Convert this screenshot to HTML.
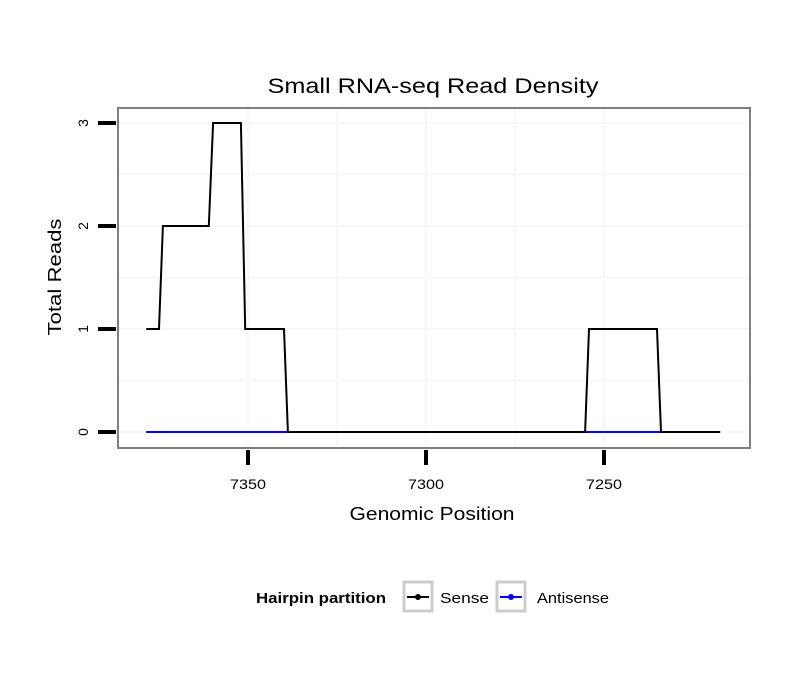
<!DOCTYPE html>
<html><head><meta charset="utf-8"><style>
body{margin:0;background:#fff;}
svg text{font-family:"Liberation Sans",sans-serif;}
</style></head><body>
<svg id="chart" width="810" height="690" xmlns="http://www.w3.org/2000/svg">
<rect width="810" height="690" fill="#fff"/>
<text x="433" y="93" font-size="21" text-anchor="middle" textLength="331" lengthAdjust="spacingAndGlyphs">Small RNA-seq Read Density</text>
<g id="grid"></g>
<g id="series"></g>
<rect x="118" y="108" width="632" height="340" fill="none" stroke="#7f7f7f" stroke-width="2"/>
<g id="axes"></g>
<text x="432" y="520" font-size="18" text-anchor="middle" textLength="165" lengthAdjust="spacingAndGlyphs">Genomic Position</text>
<text transform="translate(61,277) rotate(-90)" font-size="18" text-anchor="middle" textLength="117" lengthAdjust="spacingAndGlyphs">Total Reads</text>
<g>
<text x="256" y="603" font-size="15" font-weight="bold" textLength="130" lengthAdjust="spacingAndGlyphs">Hairpin partition</text>
<g>
<rect x="404" y="582" width="28" height="29" fill="#fff" stroke="#cccccc" stroke-width="3"/>
<line x1="407" y1="597" x2="429" y2="597" stroke="#000" stroke-width="2"/>
<circle cx="418" cy="597" r="3" fill="#000"/>
<text x="440" y="603" font-size="15" textLength="49" lengthAdjust="spacingAndGlyphs">Sense</text>
</g>
<g>
<rect x="497" y="582" width="28" height="29" fill="#fff" stroke="#cccccc" stroke-width="3"/>
<line x1="500" y1="597" x2="522" y2="597" stroke="#0000ff" stroke-width="2"/>
<circle cx="511" cy="597" r="3" fill="#0000ff"/>
<text x="537" y="603" font-size="15" textLength="72" lengthAdjust="spacingAndGlyphs">Antisense</text>
</g>
</g>
</svg>
<script>
const senseX = [7378.6, 7375, 7373.9, 7361, 7359.8, 7352, 7350.8, 7339.9, 7338.8, 7255.3, 7254.2, 7235.1, 7234, 7217.4];
const senseY = [1, 1, 2, 2, 3, 3, 1, 1, 0, 0, 1, 1, 0, 0];
const antiX = [7378.6, 7217.4];
const antiY = [0, 0];
const xTicks = [7350, 7300, 7250];
const yTicks = [0, 1, 2, 3];
const xMinor = [7325, 7275];
const yMinor = [0.5, 1.5, 2.5];

const NS = "http://www.w3.org/2000/svg";
function sx(v){ return 248 + (7350 - v) * 3.56; }
function sy(v){ return 432 - v * 103; }
function mk(tag, attrs, parent){
  const e = document.createElementNS(NS, tag);
  for (const k in attrs) e.setAttribute(k, attrs[k]);
  parent.appendChild(e);
  return e;
}
const grid = document.getElementById('grid');
const axes = document.getElementById('axes');
const series = document.getElementById('series');

xTicks.concat(xMinor).forEach(v => {
  const l = mk('line', {x1: sx(v), x2: sx(v), y1: 109, y2: 447, stroke: '#f7f7f7', 'stroke-width': 2}, grid);
  
  
});
yTicks.concat(yMinor).forEach(v => {
  const l = mk('line', {x1: 119, x2: 749, y1: sy(v), y2: sy(v), stroke: '#f7f7f7', 'stroke-width': 2}, grid);
  
  
});

function path(xs, ys, color, name){
  const d = xs.map((x, i) => (i ? 'L' : 'M') + sx(x).toFixed(1) + ',' + sy(ys[i]).toFixed(1)).join(' ');
  const p = mk('path', {d: d, fill: 'none', stroke: color, 'stroke-width': 2}, series);
  
  
}
path(antiX, antiY, '#0000ff', 'antisense-line');
path(senseX, senseY, '#000000', 'sense-line');

xTicks.forEach(v => {
  const t = mk('line', {x1: sx(v), x2: sx(v), y1: 450, y2: 465, stroke: '#000', 'stroke-width': 4}, axes);
  
  
  const tx = mk('text', {x: sx(v), y: 489, 'font-size': 14, 'text-anchor': 'middle', textLength: 36, lengthAdjust: 'spacingAndGlyphs'}, axes);
  tx.textContent = v;
  
  
});
yTicks.forEach(v => {
  const t = mk('line', {x1: 98, x2: 116, y1: sy(v), y2: sy(v), stroke: '#000', 'stroke-width': 4}, axes);
  
  
  const tx = mk('text', {transform: 'translate(88,' + sy(v) + ') rotate(-90)', 'font-size': 14, 'text-anchor': 'middle'}, axes);
  tx.textContent = v;
  
  
});
</script>
</body></html>
